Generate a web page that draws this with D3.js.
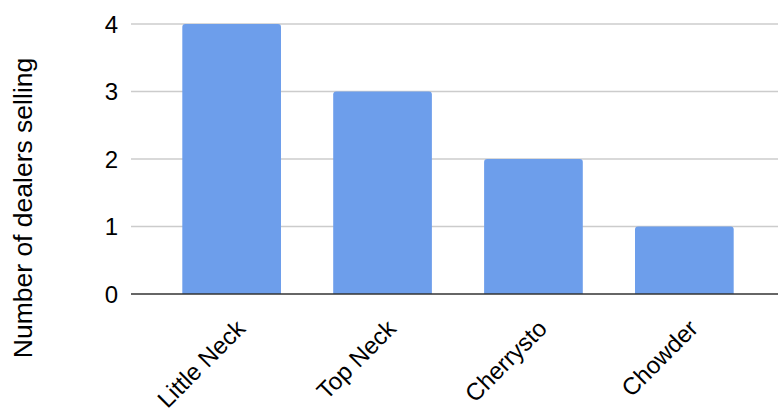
<!DOCTYPE html>
<html>
<head>
<meta charset="utf-8">
<script src="https://cdn.jsdelivr.net/npm/d3@7"></script>
<style>
  body { margin: 0; background: #fff; }
  svg { display: block; font-family: "Liberation Sans", Arial, sans-serif; }
</style>
</head>
<body>
<script>
const categories = ['Little Neck', 'Top Neck', 'Cherrysto', 'Chowder']
const dealers = [4, 3, 2, 1]
const yTicks = [0, 1, 2, 3, 4]
const yTitle = 'Number of dealers selling'

const width = 778
const height = 411
const svg = d3.select('body').append('svg')
  .attr('width', width)
  .attr('height', height)

const x = d3.scaleBand()
  .domain(categories)
  .range([131, 785])
  .paddingInner(0.346)
  .paddingOuter(0.34)

const y = d3.scaleLinear()
  .domain([0, 4])
  .range([294, 24])

// gridlines
svg.append('g')
  .selectAll('line')
  .data(yTicks.filter(d => d !== 0))
  .enter()
  .append('line')
  .attr('x1', 131)
  .attr('x2', width)
  .attr('y1', d => y(d))
  .attr('y2', d => y(d))
  .attr('stroke', '#cccccc')
  .attr('stroke-width', 1.5)

// bars with rounded tops
const r = 3
svg.append('g')
  .selectAll('path')
  .data(categories)
  .enter()
  .append('path')
  .attr('fill', '#6d9eeb')
  .attr('d', (d, i) => {
    const x0 = x(d)
    const w = x.bandwidth()
    const top = y(dealers[i])
    const bottom = y(0)
    return `M${x0},${bottom}V${top + r}Q${x0},${top} ${x0 + r},${top}H${x0 + w - r}Q${x0 + w},${top} ${x0 + w},${top + r}V${bottom}Z`
  })

// baseline
svg.append('line')
  .attr('x1', 131)
  .attr('x2', width)
  .attr('y1', y(0))
  .attr('y2', y(0))
  .attr('stroke', '#333333')
  .attr('stroke-width', 1.5)

// y tick labels
svg.append('g')
  .selectAll('text')
  .data(yTicks)
  .enter()
  .append('text')
  .attr('x', 118)
  .attr('y', d => y(d))
  .attr('dy', '0.36em')
  .attr('text-anchor', 'end')
  .attr('font-size', 24)
  .attr('fill', '#000')
  .text(d => d)

// x labels rotated
svg.append('g')
  .selectAll('text')
  .data(categories)
  .enter()
  .append('text')
  .attr('text-anchor', 'end')
  .attr('font-size', 24)
  .attr('fill', '#000')
  .attr('transform', d => `translate(${x(d) + x.bandwidth() / 2 + 15},${y(0) + 36}) rotate(-45)`)
  .text(d => d)

// y title
svg.append('text')
  .attr('transform', `translate(32,${(58 + 358) / 2}) rotate(-90)`)
  .attr('text-anchor', 'middle')
  .attr('font-size', 26.5)
  .attr('fill', '#000')
  .text(yTitle)
</script>
</body>
</html>
